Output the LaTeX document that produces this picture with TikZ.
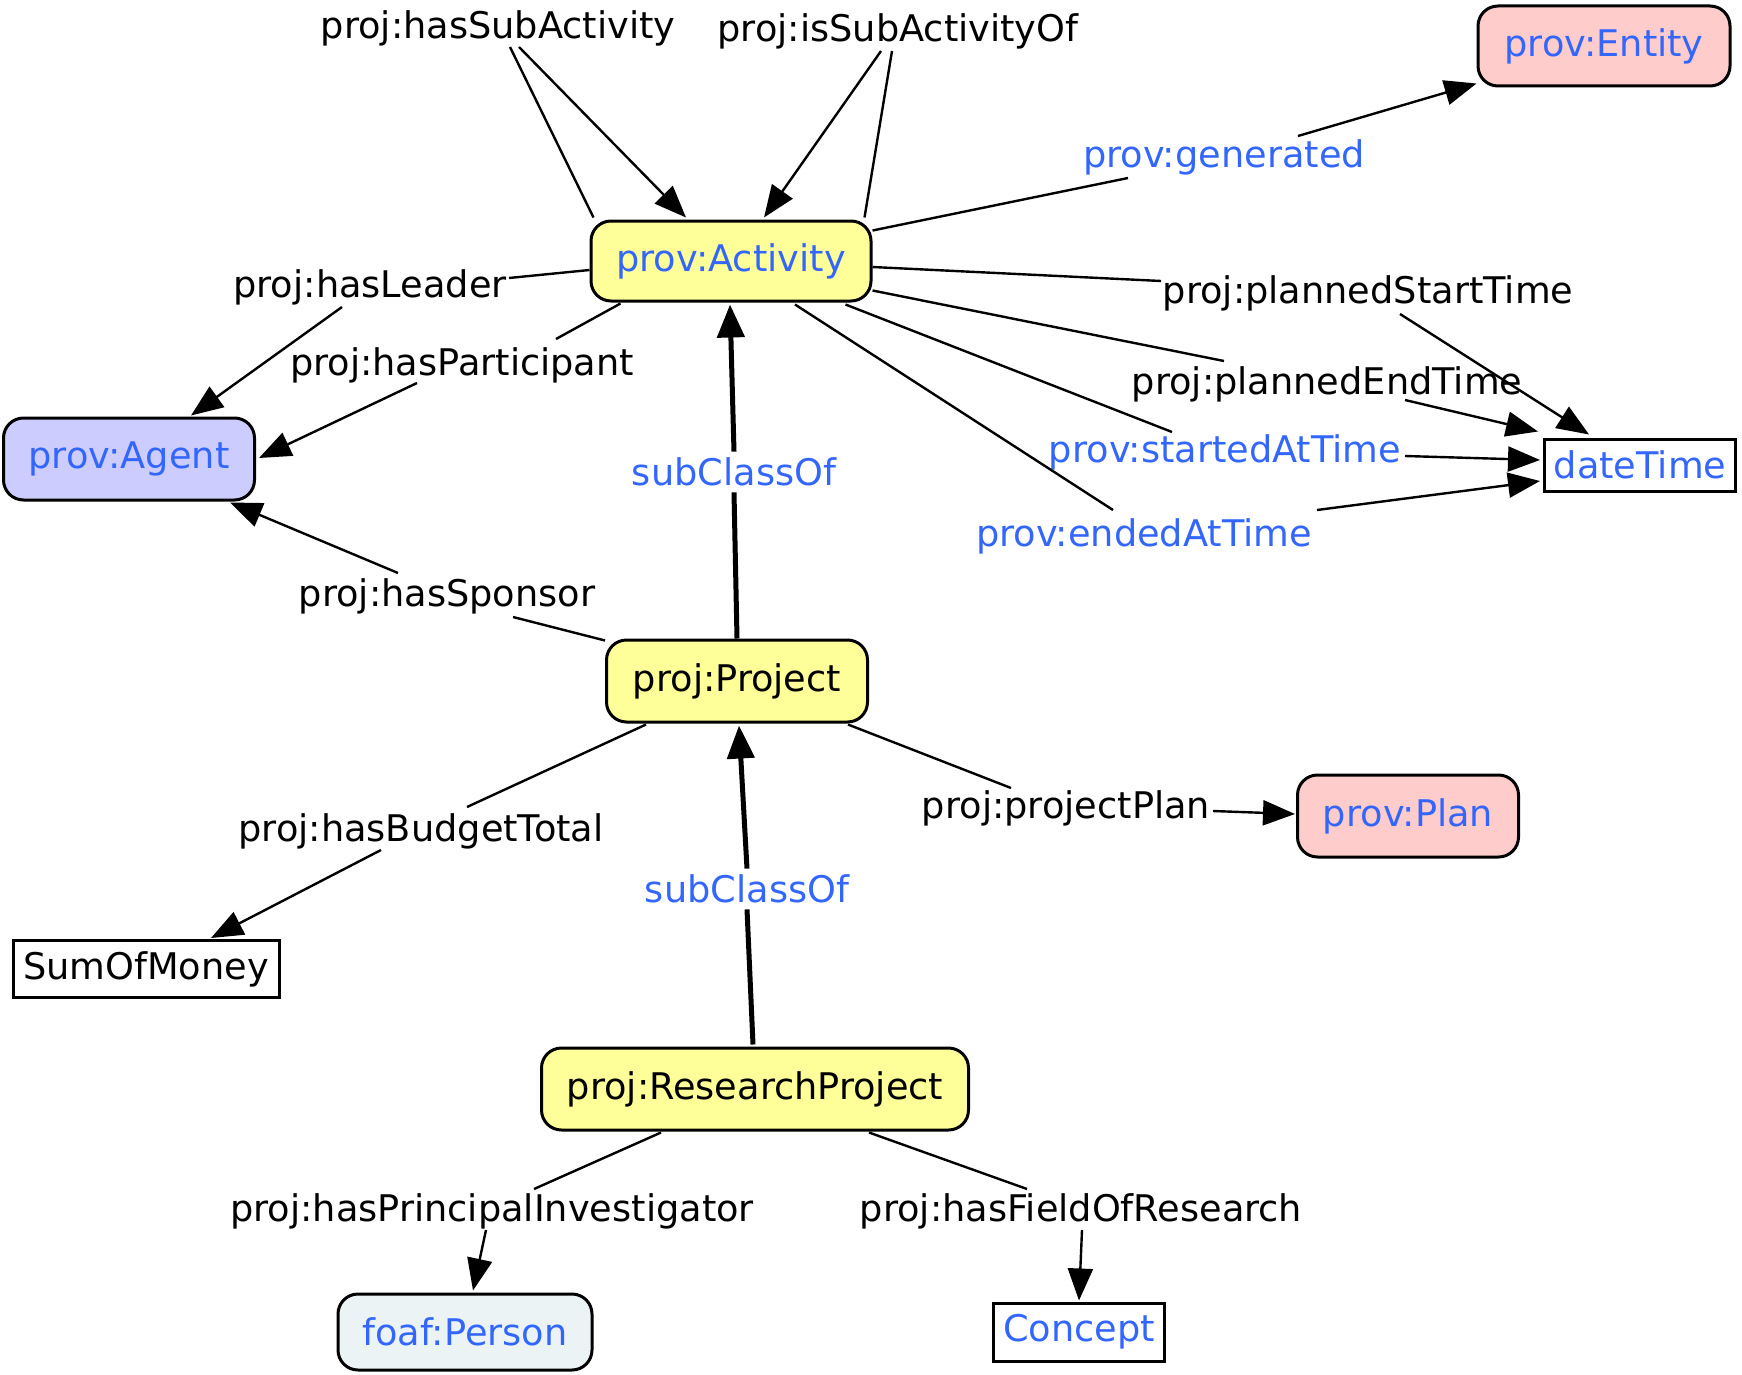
\documentclass[tikz,border=0pt]{standalone}
\usepackage{fontspec}
\setmainfont{DejaVu Sans}
\usetikzlibrary{arrows.meta,calc}
\definecolor{lblue}{RGB}{51,102,255}
\definecolor{yel}{RGB}{255,255,153}
\definecolor{agentc}{RGB}{204,204,255}
\definecolor{pinkc}{RGB}{255,204,204}
\definecolor{personc}{RGB}{236,243,245}
\begin{document}
\begin{tikzpicture}[x=1pt,y=-1pt,
  font=\fontsize{36.7pt}{44pt}\selectfont,
  cls/.style={draw=black,line width=3pt,rounded corners=20pt,inner sep=0pt},
  lit/.style={draw=black,line width=3pt,inner sep=0pt},
  lbl/.style={inner sep=0pt,text=black,yshift=-4pt},
  blbl/.style={inner sep=0pt,text=lblue,yshift=-4pt},
  sclbl/.style={inner sep=6pt,text=lblue},
  edge/.style={line width=2.4pt},
  arr/.style={line width=2.4pt,-{Triangle[length=32pt,width=25pt]}},
  thick arr/.style={line width=5pt,-{Triangle[length=33pt,width=27pt]}}
]
\useasboundingbox (0,0) rectangle (1742,1375);
% class nodes
\node[cls,fill=yel,minimum width=280pt,minimum height=80pt,text=lblue] (act) at (731,261) {prov:Activity};
\node[cls,fill=pinkc,minimum width=252pt,minimum height=80pt,text=lblue] (ent) at (1604,46) {prov:Entity};
\node[cls,fill=agentc,minimum width=251pt,minimum height=82pt,text=lblue] (agent) at (129,459) {prov:Agent};
\node[lit,fill=white,minimum width=191pt,minimum height=52pt,text=lblue] (dt) at (1640,465) {dateTime};
\node[cls,fill=yel,minimum width=261pt,minimum height=82pt] (proj) at (737,681) {proj:Project};
\node[cls,fill=pinkc,minimum width=221pt,minimum height=82pt,text=lblue] (plan) at (1408,816) {prov:Plan};
\node[lit,fill=white,minimum width=266pt,minimum height=57pt] (som) at (146,969) {SumOfMoney};
\node[cls,fill=yel,minimum width=427pt,minimum height=82pt] (rp) at (755,1089) {proj:ResearchProject};
\node[cls,fill=personc,minimum width=254pt,minimum height=76pt,text=lblue] (person) at (465,1332) {foaf:Person};
\node[lit,fill=white,minimum width=171pt,minimum height=58pt,text=lblue] (concept) at (1079,1332) {Concept};
% edge labels
\node[lbl] (lSub) at (498,24) {proj:hasSubActivity};
\node[lbl] (lIsSub) at (898,27) {proj:isSubActivityOf};
\node[blbl] (lGen) at (1224,153) {prov:generated};
\node[lbl] (lLead) at (370,283) {proj:hasLeader};
\node[lbl] (lPart) at (462,361) {proj:hasParticipant};
\node[lbl] (lPST) at (1368,289) {proj:plannedStartTime};
\node[lbl] (lPET) at (1327,380) {proj:plannedEndTime};
\node[blbl] (lSAT) at (1225,448) {prov:startedAtTime};
\node[blbl] (lEAT) at (1144,532) {prov:endedAtTime};
\node[sclbl] (lSC1) at (734,472) {subClassOf};
\node[lbl] (lSpon) at (447,592) {proj:hasSponsor};
\node[lbl] (lPlan) at (1066,804) {proj:projectPlan};
\node[lbl] (lBud) at (421,827) {proj:hasBudgetTotal};
\node[sclbl] (lSC2) at (747,889) {subClassOf};
\node[lbl] (lPI) at (492,1207) {proj:hasPrincipalInvestigator};
\node[lbl] (lFoR) at (1081,1207) {proj:hasFieldOfResearch};
% coordinates where edges meet labels
\coordinate (s1) at (510,47);  \coordinate (s2) at (519,47);
\coordinate (i1) at (892,51);  \coordinate (i2) at (881,51);
\coordinate (g1) at (1128,178); \coordinate (g2) at (1298,136);
\coordinate (le1) at (509,278); \coordinate (le2) at (342,307);
\coordinate (pa1) at (556,339); \coordinate (pa2) at (417,383);
\coordinate (ps1) at (1161,281); \coordinate (ps2) at (1400,314);
\coordinate (pe1) at (1224,361); \coordinate (pe2) at (1405,400);
\coordinate (sa1) at (1172,432); \coordinate (sa2) at (1405,456);
\coordinate (ea1) at (1113,510); \coordinate (ea2) at (1317,510);
\coordinate (sp1) at (513,617); \coordinate (sp2) at (398,573);
\coordinate (pp1) at (1011,788); \coordinate (pp2) at (1213,811);
\coordinate (bt1) at (467,807); \coordinate (bt2) at (381,850);
\coordinate (pi1) at (534,1189); \coordinate (pi2) at (486,1230);
\coordinate (fr1) at (1027,1189); \coordinate (fr2) at (1082,1230);
% edges
\draw[edge] ($(act.north west)+(4,-2)$) -- (s1);
\draw[arr] (s2) -- ($(act.north)+(-45,-2)$);
\draw[edge] ($(act.north east)+(-8,-2)$) -- (i1);
\draw[arr] (i2) -- ($(act.north)+(33,-2)$);
\draw[edge] ($(act.north east)+(0,11)$) -- (g1);
\draw[arr] (g2) -- ($(ent.south west)+(0,-4)$);
\draw[edge] ($(act.west)+(0,9)$) -- (le1);
\draw[arr] (le2) -- ($(agent.north)+(62,-1)$);
\draw[edge] ($(act.south west)+(31,1)$) -- (pa1);
\draw[arr] (pa2) -- ($(agent.east)+(3,-1)$);
\draw[edge] ($(act.east)+(0,6)$) -- (ps1);
\draw[arr] (ps2) -- ($(dt.north)+(-51,-3)$);
\draw[edge] ($(act.south east)+(0,-12)$) -- (pe1);
\draw[arr] (pe2) -- ($(dt.north west)+(-5,-6)$);
\draw[edge] ($(act.south east)+(-27,2)$) -- (sa1);
\draw[arr] (sa2) -- ($(dt.west)+(-3,-5)$);
\draw[edge] ($(act.south)+(64,2)$) -- (ea1);
\draw[arr] (ea2) -- ($(dt.west)+(-3,16)$);
\draw[line width=5pt] (proj.north) -- (lSC1.south);
\draw[thick arr] (lSC1.north) -- ($(act.south)+(-1,2)$);
\draw[edge] ($(proj.north west)+(0,2)$) -- (sp1);
\draw[arr] (sp2) -- ($(agent.south east)+(-26,1)$);
\draw[edge] ($(proj.south east)+(-21,1)$) -- (pp1);
\draw[arr] (pp2) -- ($(plan.west)+(-1,-2)$);
\draw[edge] ($(proj.south west)+(41,1)$) -- (bt1);
\draw[arr] (bt2) -- ($(som.north)+(65,-1)$);
\draw[line width=5pt] ($(rp.north)+(-2,-2)$) -- (lSC2.south);
\draw[thick arr] (lSC2.north) -- ($(proj.south)+(2,2)$);
\draw[edge] ($(rp.south west)+(121,1)$) -- (pi1);
\draw[arr] (pi2) -- ($(person.north)+(8,-2)$);
\draw[edge] ($(rp.south east)+(-101,1)$) -- (fr1);
\draw[arr] (fr2) -- ($(concept.north)+(0,-1)$);
\end{tikzpicture}
\end{document}
